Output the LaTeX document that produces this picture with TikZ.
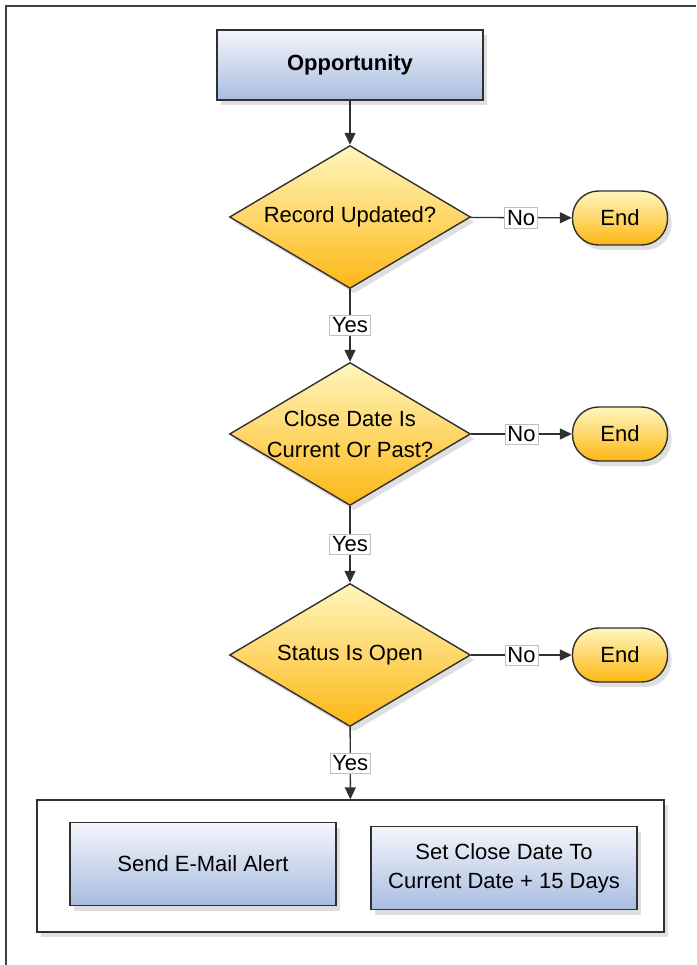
\documentclass[tikz,border=0pt]{standalone}
\usepackage{fontspec}
\setmainfont{Liberation Sans}
\usetikzlibrary{shapes.geometric,arrows.meta,shadows}

\definecolor{boxtop}{HTML}{F4F6FB}
\definecolor{boxbot}{HTML}{A9BCE0}
\definecolor{dectop}{HTML}{FFF6BE}
\definecolor{decbot}{HTML}{FDB714}
\definecolor{edge}{HTML}{303030}

\tikzset{
  myshadow/.style={drop shadow={shadow xshift=4pt, shadow yshift=-5pt, fill=black!25, opacity=0.5}},
  taskbox/.style={draw=edge, line width=1.4pt, rectangle, top color=boxtop, bottom color=boxbot,
    myshadow, minimum width=266pt, minimum height=82pt, align=center, font=\fontsize{22}{29}\selectfont},
  decision/.style={draw=edge, line width=1.4pt, diamond, aspect=1.69, top color=dectop, bottom color=decbot,
    myshadow, minimum width=241pt, minimum height=143pt, inner sep=0pt, align=center,
    font=\fontsize{22}{31}\selectfont},
  endnode/.style={draw=edge, line width=1.4pt, rectangle, rounded corners=26pt, top color=dectop,
    bottom color=decbot, myshadow, minimum width=95pt, minimum height=54pt, font=\fontsize{22}{28}\selectfont},
  answer/.style={draw=black!25, line width=0.6pt, fill=white, inner sep=2.5pt, font=\fontsize{22}{28}\selectfont},
  flow/.style={draw=edge, line width=1.4pt, -{Triangle[length=12pt,width=11pt]}},
}

\begin{document}
\begin{tikzpicture}[x=1pt,y=-1pt]
    \useasboundingbox (0,0) rectangle (696,965);

    % frame
    \draw[line width=2.2pt, black!75] (6,965) -- (6,6) -- (696,6);

    \node[taskbox, minimum height=70pt, font=\fontsize{22}{28}\selectfont\bfseries] (opp) at (350,65) {Opportunity};

    \node[decision] (dec1) at (350,217) {Record Updated?};
    \node[decision, inner sep=-12pt] (dec2) at (350,434) {Close Date Is\\Current Or Past?};
    \node[decision] (dec3) at (350,655) {Status Is Open};

    \node[endnode] (end1) at (620,218) {End};
    \node[endnode] (end2) at (620,434) {End};
    \node[endnode] (end3) at (620,655) {End};

    % actions
    \node[draw=edge, line width=1.4pt, fill=white, myshadow, minimum width=627pt, minimum height=132pt] (actions) at (350.5,866) {};
    \node[taskbox, minimum height=83pt] (alert) at (203,864) {Send E-Mail Alert};
    \node[taskbox, minimum height=83pt] (closedate) at (504,868) {Set Close Date To\\Current Date + 15 Days};

    \draw[flow] (opp) -- (dec1);
    \draw[flow] (dec1) -- node[answer] {No} (end1);
    \draw[flow] (dec2) -- node[answer] {No} (end2);
    \draw[flow] (dec3) -- node[answer] {No} (end3);
    \draw[flow] (dec1) -- node[answer] {Yes} (dec2);
    \draw[flow] (dec2) -- node[answer] {Yes} (dec3);
    \draw[flow] (dec3) -- node[answer] {Yes} (actions);

\end{tikzpicture}
\end{document}
